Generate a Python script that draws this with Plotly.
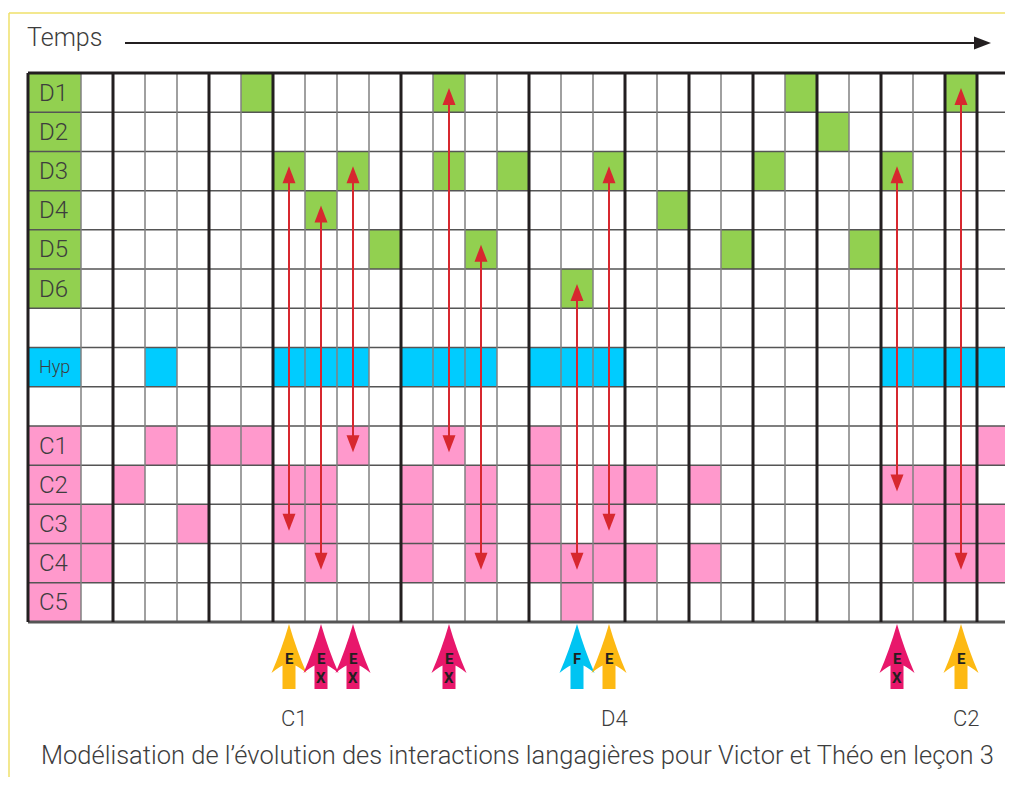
import plotly.graph_objects as go

# ---------------- data ----------------
row_labels = ["D1", "D2", "D3", "D4", "D5", "D6", "", "Hyp", "", "C1", "C2", "C3", "C4", "C5"]
n_cols = 29

d1 = [5, 11, 22, 27]
d2 = [23]
d3 = [6, 8, 11, 13, 16, 21, 25]
d4 = [7, 18]
d5 = [9, 12, 20, 24]
d6 = [15]
hyp = [2, 6, 7, 8, 10, 11, 12, 14, 15, 16, 25, 26, 27, 28]
c1 = [2, 4, 5, 8, 11, 14, 28]
c2 = [1, 6, 7, 10, 12, 14, 16, 17, 19, 25, 26, 27]
c3 = [0, 3, 6, 7, 10, 12, 14, 16, 26, 27, 28]
c4 = [0, 7, 10, 12, 14, 15, 16, 17, 19, 26, 27, 28]
c5 = [15]

# column boundaries drawn as heavy separators
thick_bounds = [1, 4, 6, 10, 14, 17, 19, 21, 23, 25, 27, 28, 29]

# double-headed links: column, upper row, lower row
link_cols = [6, 7, 8, 11, 12, 15, 16, 25, 27]
link_from = ["D3", "D4", "D3", "D1", "D5", "D6", "D3", "D3", "D1"]
link_to = ["C3", "C4", "C1", "C1", "C4", "C4", "C3", "C2", "C4"]

# event arrows under the grid
event_cols = [6, 7, 8, 11, 15, 16, 25, 27]
event_types = ["E", "EX", "EX", "EX", "F", "E", "EX", "E"]

# labels under the event arrows
marker_labels = ["C1", "D4", "C2"]
marker_cols = [6, 16, 27]

title_text = "Temps"
caption = "Modélisation de l’évolution des interactions langagières pour Victor et Théo en leçon 3"

# ---------------- style ----------------
GREEN = "#92D050"
CYAN = "#00CCFF"
PINK = "#FF99CC"
RED = "#D7282F"
EVENT_COLORS = {"E": "#FDB913", "EX": "#E8176B", "F": "#00C4F2"}
TXT = "#3d3d3d"
DARK = "#231F20"
THIN = "#808080"
HLINE = "#555555"
FONT = "Roboto, 'Open Sans', sans-serif"

PAGE_W, PAGE_H = 1013, 785
OFF = 8                      # default page body margin
W, H = PAGE_W - OFF, PAGE_H - 2 * OFF
# page-pixel layout of the grid
X0PX, COLW = 81, 32
Y0PX, Y1PX = 73, 622
n_rows = len(row_labels)
ROWH = (Y1PX - Y0PX) / n_rows
# axis ranges so that data units land on the page pixels above
xr = [(OFF - X0PX) / COLW, (OFF + W - X0PX) / COLW]
yr = [(OFF + H - Y0PX) / ROWH, (OFF - Y0PX) / ROWH]


def px_y(py):
    return (py - Y0PX) / ROWH


def px_x(px):
    return (px - X0PX) / COLW


LAB_X0 = px_x(28)

row_cells = {"D1": d1, "D2": d2, "D3": d3, "D4": d4, "D5": d5, "D6": d6,
             "Hyp": hyp, "C1": c1, "C2": c2, "C3": c3, "C4": c4, "C5": c5}


def group_code(lab):
    if lab.startswith("D"):
        return 1
    if lab == "Hyp":
        return 2
    if lab.startswith("C"):
        return 3
    return 0


group_color = {0: "white", 1: GREEN, 2: CYAN, 3: PINK}

z = [[0] * n_cols for _ in range(n_rows)]
for r, lab in enumerate(row_labels):
    for c in row_cells.get(lab, []):
        z[r][c] = group_code(lab)

fig = go.Figure()
fig.add_trace(go.Heatmap(
    z=z,
    x=[c + 0.5 for c in range(n_cols)],
    y=[r + 0.5 for r in range(n_rows)],
    zmin=0, zmax=3,
    colorscale=[[0, "white"], [1 / 6, "white"], [1 / 6, GREEN], [0.5, GREEN],
                [0.5, CYAN], [5 / 6, CYAN], [5 / 6, PINK], [1, PINK]],
    showscale=False, hoverinfo="skip",
))

shapes = []
annotations = []

# label column cells
for r, lab in enumerate(row_labels):
    code = group_code(lab)
    if code:
        shapes.append(dict(type="rect", xref="x", yref="y", x0=LAB_X0, x1=0, y0=r, y1=r + 1,
                           fillcolor=group_color[code], line=dict(width=0), layer="below"))
        annotations.append(dict(x=LAB_X0, y=r + 0.5, xref="x", yref="y", text=lab,
                                showarrow=False, xanchor="left", xshift=9,
                                yshift=0 if lab != "Hyp" else 1,
                                font=dict(family=FONT, size=24 if lab != "Hyp" else 18,
                                          color=TXT, weight=300)))

# grid: horizontal lines
for r in range(1, n_rows):
    shapes.append(dict(type="line", xref="x", yref="y", x0=LAB_X0, x1=n_cols, y0=r, y1=r,
                       line=dict(color=HLINE, width=1.5)))
# thin verticals
for b in range(0, n_cols):
    if b not in thick_bounds:
        shapes.append(dict(type="line", xref="x", yref="y", x0=b, x1=b, y0=0, y1=n_rows,
                           line=dict(color=THIN, width=1.5)))
# borders
shapes.append(dict(type="line", xref="x", yref="y", x0=LAB_X0, x1=n_cols, y0=n_rows, y1=n_rows,
                   line=dict(color=HLINE, width=3)))
shapes.append(dict(type="line", xref="x", yref="y", x0=LAB_X0, x1=n_cols, y0=0, y1=0,
                   line=dict(color=DARK, width=3)))
for b in thick_bounds:
    shapes.append(dict(type="line", xref="x", yref="y", x0=b, x1=b, y0=0, y1=n_rows,
                       line=dict(color=DARK, width=3)))
shapes.append(dict(type="line", xref="x", yref="y", x0=LAB_X0, x1=LAB_X0, y0=0, y1=n_rows,
                   line=dict(color=DARK, width=3)))

# red double-headed links
HEAD_L, HEAD_HW = 17, 6.5
for c, f, t in zip(link_cols, link_from, link_to):
    xc = c + 0.5
    ytop = row_labels.index(f) + 0.5 - 0.12
    ybot = row_labels.index(t) + 0.5 + 0.17
    shapes.append(dict(type="line", xref="x", yref="y", x0=xc, x1=xc,
                       y0=ytop + 8 / ROWH, y1=ybot - 8 / ROWH,
                       line=dict(color=RED, width=2)))
    shapes.append(dict(type="path", xref="x", yref="y", xsizemode="pixel", ysizemode="pixel",
                       xanchor=xc, yanchor=ytop,
                       path=f"M0,0 L{HEAD_HW},-{HEAD_L} L-{HEAD_HW},-{HEAD_L} Z",
                       fillcolor=RED, line=dict(width=0)))
    shapes.append(dict(type="path", xref="x", yref="y", xsizemode="pixel", ysizemode="pixel",
                       xanchor=xc, yanchor=ybot,
                       path=f"M0,0 L{HEAD_HW},{HEAD_L} L-{HEAD_HW},{HEAD_L} Z",
                       fillcolor=RED, line=dict(width=0)))

# event block arrows
ARROW_PATH = ("M0,-2 Q7.5,-28 17.5,-51 Q11,-45.5 6.5,-43.5 L6.5,-67 L-6.5,-67 "
              "L-6.5,-43.5 Q-11,-45.5 -17.5,-51 Q-7.5,-28 0,-2 Z")
for c, kind in zip(event_cols, event_types):
    xc = c + 0.5
    shapes.append(dict(type="path", xref="x", yref="y", xsizemode="pixel", ysizemode="pixel",
                       xanchor=xc, yanchor=n_rows, path=ARROW_PATH,
                       fillcolor=EVENT_COLORS[kind], line=dict(width=0)))
    for i, ch in enumerate(kind):
        annotations.append(dict(x=xc, y=n_rows, xref="x", yref="y", text=f"<b>{ch}</b>",
                                showarrow=False, yshift=-37 - 19 * i,
                                font=dict(family=FONT, size=15, color=DARK)))

# labels under arrows
for lab, c in zip(marker_labels, marker_cols):
    annotations.append(dict(x=c + 0.5, y=px_y(718), xref="x", yref="y", text=lab, showarrow=False,
                            xshift=5, font=dict(family=FONT, size=22, color=TXT, weight=300)))

# caption
annotations.append(dict(x=px_x(517), y=px_y(755), xref="x", yref="y", text=caption, showarrow=False,
                        font=dict(family=FONT, size=25.5, color=TXT, weight=300)))

# "Temps" header with time arrow
annotations.append(dict(x=LAB_X0, y=px_y(37), xref="x", yref="y", text=title_text, showarrow=False,
                        xanchor="left", xshift=-3, font=dict(family=FONT, size=25, color=TXT, weight=300)))
shapes.append(dict(type="line", xref="x", yref="y", x0=px_x(125), x1=px_x(975), y0=px_y(43), y1=px_y(43),
                   line=dict(color=DARK, width=2)))
shapes.append(dict(type="path", xref="x", yref="y", xsizemode="pixel", ysizemode="pixel",
                   xanchor=px_x(991), yanchor=px_y(43), path="M0,0 L-17,6.5 L-17,-6.5 Z",
                   fillcolor=DARK, line=dict(width=0)))

# pale yellow frame
FRAME = "#EFE06A"
shapes.append(dict(type="line", xref="x", yref="y", x0=px_x(9), x1=px_x(PAGE_W + 5),
                   y0=px_y(13), y1=px_y(13), line=dict(color=FRAME, width=1.5)))
shapes.append(dict(type="line", xref="x", yref="y", x0=px_x(9), x1=px_x(9),
                   y0=px_y(13), y1=px_y(PAGE_H + 5), line=dict(color=FRAME, width=1.5)))

fig.update_layout(
    width=W, height=H,
    margin=dict(l=0, r=0, t=0, b=0),
    paper_bgcolor="white", plot_bgcolor="white",
    xaxis=dict(visible=False, range=xr, fixedrange=True),
    yaxis=dict(visible=False, range=yr, fixedrange=True),
    shapes=shapes, annotations=annotations, showlegend=False,
)

fig.write_html("out.html", config={"displayModeBar": False})
